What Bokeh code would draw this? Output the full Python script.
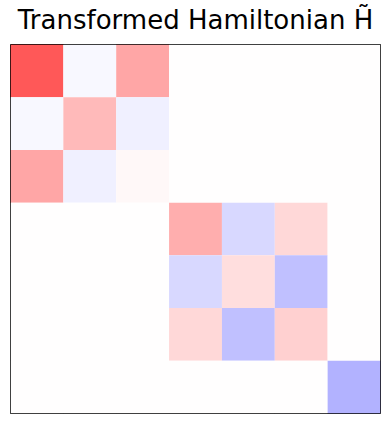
import numpy as np
from bokeh.plotting import figure
from bokeh.models import ColumnDataSource, LinearColorMapper, Title
from bokeh.embed import file_html
from bokeh.resources import INLINE

labels = [0, 1, 2, 3, 4, 5, 6]
H = [
    [0.65, -0.03, 0.35, 0.0, 0.0, 0.0, 0.0],
    [-0.03, 0.27, -0.06, 0.0, 0.0, 0.0, 0.0],
    [0.35, -0.06, 0.025, 0.0, 0.0, 0.0, 0.0],
    [0.0, 0.0, 0.0, 0.32, -0.15, 0.15, 0.0],
    [0.0, 0.0, 0.0, -0.15, 0.13, -0.25, 0.0],
    [0.0, 0.0, 0.0, 0.15, -0.25, 0.18, 0.0],
    [0.0, 0.0, 0.0, 0.0, 0.0, 0.0, -0.30],
]
vmin, vmax = -1.0, 1.0

def bwr(n=256):
    pal = []
    for i in range(n):
        t = i / (n - 1)
        if t < 0.5:
            r = g = 2 * t
            b = 1.0
        else:
            r = 1.0
            g = b = 2 * (1 - t)
        pal.append("#%02x%02x%02x" % (int(round(r * 255)), int(round(g * 255)), int(round(b * 255))))
    return pal

xs, ys, vs = [], [], []
for i, row in enumerate(H):
    for j, v in enumerate(row):
        xs.append(j)
        ys.append(i)
        vs.append(v)
src = ColumnDataSource(dict(x=xs, y=ys, v=vs))
mapper = LinearColorMapper(palette=bwr(), low=vmin, high=vmax)

n = len(labels)
p = figure(width=390, height=423, output_backend="svg", toolbar_location=None,
           x_range=(-0.5, n - 0.5), y_range=(n - 0.5, -0.5),
           title="Transformed Hamiltonian H\u0303",
           min_border_left=10, min_border_right=10, min_border_top=0, min_border_bottom=10)
p.rect(x="x", y="y", width=1, height=1, source=src,
       fill_color={"field": "v", "transform": mapper}, line_color=None)
p.axis.visible = False
p.grid.visible = False
p.outline_line_color = "black"
p.outline_line_width = 1
p.title.text_font = "DejaVu Sans"
p.title.text_font_size = "26px"
p.title.text_font_style = "normal"
p.title.align = "center"
p.title.text_color = "black"
p.title.standoff = 4
spacer = Title(text=" ", text_font_size="6px", standoff=0)
p.add_layout(spacer, "above")
p.background_fill_color = "white"
p.border_fill_color = "white"

open("out.html", "w").write(file_html(p, INLINE))
